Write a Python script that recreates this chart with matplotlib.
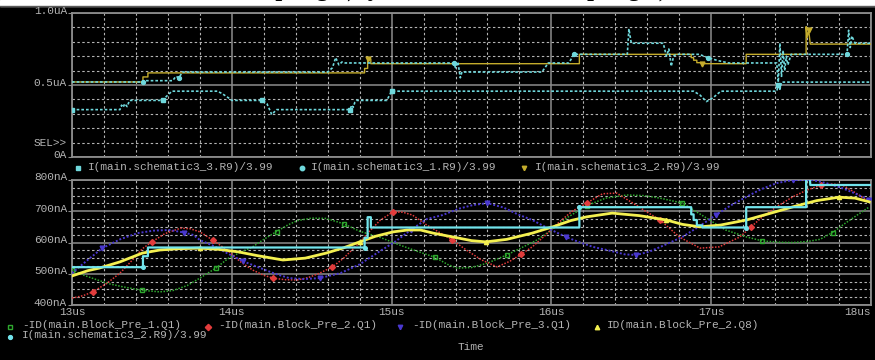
import matplotlib
matplotlib.use("Agg")
import matplotlib.pyplot as plt
from matplotlib.ticker import MultipleLocator
from matplotlib.patches import Rectangle

W, H, DPI = 875, 360, 100

# ---------------- data (time in microseconds) ----------------
# -ID(main.Block_Pre_1.Q1), nA
green_t = [13.00, 13.08, 13.16, 13.24, 13.32, 13.44, 13.55, 13.63, 13.72, 13.80,
           13.90, 13.98, 14.06, 14.13, 14.20, 14.28, 14.35, 14.41, 14.50, 14.59,
           14.70, 14.80, 14.92, 15.05, 15.16, 15.27, 15.35, 15.41, 15.50, 15.60,
           15.72, 15.82, 15.91, 16.00, 16.10, 16.22, 16.34, 16.47, 16.58, 16.68,
           16.82, 16.88, 16.99, 17.09, 17.22, 17.32, 17.42, 17.51, 17.60, 17.68,
           17.76, 17.84, 17.92, 17.99]
green_nA = [512, 494, 480, 467, 458, 447, 442, 446, 462, 486,
            518, 550, 570, 586, 610, 635, 656, 670, 678, 677,
            660, 636, 618, 592, 572, 553, 530, 518, 520, 534,
            560, 585, 608, 640, 680, 718, 742, 752, 750, 742,
            726, 707, 672, 640, 618, 605, 601, 600, 603, 610,
            632, 662, 690, 714]

# -ID(main.Block_Pre_2.Q1), nA
red_t = [13.00, 13.07, 13.13, 13.22, 13.30, 13.38, 13.44, 13.50, 13.58, 13.68,
         13.74, 13.80, 13.88, 13.97, 14.05, 14.13, 14.20, 14.26, 14.33, 14.41,
         14.48, 14.55, 14.63, 14.70, 14.78, 14.86, 14.93, 15.01, 15.07, 15.13,
         15.22, 15.30, 15.38, 15.47, 15.56, 15.66, 15.74, 15.81, 15.88, 15.96,
         16.05, 16.13, 16.22, 16.32, 16.41, 16.51, 16.59, 16.68, 16.80, 16.93,
         17.05, 17.18, 17.25, 17.32, 17.42, 17.51, 17.60, 17.69, 17.76, 17.82,
         17.90, 17.99]
red_nA = [422, 430, 442, 470, 502, 545, 580, 602, 628, 646,
          644, 634, 608, 576, 540, 512, 495, 486, 481, 480,
          488, 502, 522, 550, 590, 635, 672, 698, 697, 688,
          656, 632, 608, 575, 545, 522, 540, 562, 586, 622,
          666, 700, 726, 756, 758, 726, 700, 672, 618, 582,
          586, 618, 650, 682, 718, 746, 768, 784, 787, 784,
          760, 730]

# -ID(main.Block_Pre_3.Q1), nA
blue_t = [13.00, 13.10, 13.19, 13.30, 13.41, 13.51, 13.61, 13.70, 13.76, 13.80,
          13.89, 13.97, 14.07, 14.18, 14.27, 14.36, 14.45, 14.55, 14.68, 14.80,
          14.92, 15.02, 15.12, 15.22, 15.32, 15.42, 15.51, 15.60, 15.70, 15.79,
          15.88, 15.98, 16.09, 16.18, 16.26, 16.38, 16.46, 16.53, 16.61, 16.70,
          16.82, 16.92, 17.03, 17.12, 17.22, 17.31, 17.41, 17.51, 17.63, 17.72,
          17.82, 17.90, 17.99]
blue_nA = [502, 545, 582, 610, 630, 638, 640, 632, 624, 608,
           588, 566, 540, 518, 500, 486, 483, 486, 502, 530,
           570, 602, 640, 675, 688, 708, 720, 726, 712, 690,
           672, 645, 618, 600, 586, 572, 562, 560, 570, 590,
           618, 650, 688, 718, 746, 770, 790, 800, 800, 790,
           774, 757, 736]

# ID(main.Block_Pre_2.Q8), nA
yel_t = [13.00, 13.10, 13.17, 13.30, 13.44, 13.55, 13.66, 13.80, 13.92, 14.04,
         14.16, 14.32, 14.46, 14.59, 14.70, 14.80, 14.90, 15.01, 15.10, 15.18,
         15.26, 15.38, 15.50, 15.59, 15.72, 15.88, 16.02, 16.12, 16.22, 16.38,
         16.55, 16.72, 16.82, 16.93, 17.06, 17.22, 17.36, 17.51, 17.66, 17.80,
         17.90, 17.99]
yel_nA = [493, 510, 518, 538, 566, 576, 580, 582, 578, 570,
          558, 544, 550, 566, 583, 602, 620, 634, 640, 640,
          630, 618, 606, 602, 610, 630, 652, 670, 682, 694,
          686, 672, 658, 650, 656, 672, 692, 714, 734, 745,
          742, 730]

# I(main.schematic3_2.R9)/3.99, nA (staircase)
step_t = [13.00, 13.444, 13.444, 13.475, 13.475, 14.831, 14.831, 14.85, 14.85, 14.87,
          14.87, 16.175, 16.175, 16.875, 16.875, 16.89, 16.89, 16.91, 16.91, 16.944,
          16.944, 17.219, 17.219, 17.594, 17.594, 17.60, 17.61, 17.62, 18.00]
step_nA = [521, 521, 556, 556, 584, 584, 615, 615, 681, 681,
           648, 648, 713, 713, 690, 690, 672, 672, 655, 655,
           648, 648, 713, 713, 905, 830, 880, 784, 784]

# I(main.schematic3_3.R9)/3.99, uA
sch3_t = [13.00, 13.30, 13.31, 13.32, 13.33, 13.345, 13.36, 13.57, 13.59, 13.60,
          13.625, 13.91, 13.94, 13.96, 13.98, 14.00, 14.19, 14.22, 14.25, 14.28,
          14.74, 14.75, 14.76, 14.77, 14.78, 14.97, 15.00, 16.89, 16.93, 16.97,
          17.01, 17.06, 17.41, 17.42, 17.43, 17.44, 18.00]
sch3_uA = [0.329, 0.329, 0.36, 0.345, 0.37, 0.35, 0.393, 0.393, 0.42, 0.43,
           0.457, 0.457, 0.44, 0.425, 0.41, 0.393, 0.393, 0.37, 0.295, 0.329,
           0.329, 0.36, 0.345, 0.38, 0.393, 0.393, 0.457, 0.457, 0.43, 0.385,
           0.41, 0.457, 0.457, 0.50, 0.47, 0.52, 0.52]

# I(main.schematic3_1.R9)/3.99, uA
sch1_t = [13.00, 13.444, 13.45, 13.63, 13.65, 13.67, 13.69, 14.60, 14.63, 14.65,
          14.67, 14.69, 14.71, 15.39, 15.40, 15.415, 15.43, 15.44, 15.94, 15.96,
          15.98, 16.11, 16.14, 16.475, 16.485, 16.50, 16.70, 16.72, 16.735, 16.75,
          16.765, 16.78, 16.925, 16.98, 17.04, 17.11, 17.41, 17.42, 17.43, 17.44,
          17.45, 17.46, 17.47, 17.48, 17.50, 17.85, 17.86, 17.87, 17.88, 17.90,
          18.00]
sch1_uA = [0.521, 0.521, 0.53, 0.53, 0.56, 0.55, 0.59, 0.59, 0.62, 0.69,
           0.64, 0.66, 0.653, 0.653, 0.62, 0.66, 0.55, 0.59, 0.59, 0.62,
           0.653, 0.653, 0.713, 0.713, 0.89, 0.79, 0.79, 0.70, 0.75, 0.63,
           0.70, 0.713, 0.713, 0.69, 0.67, 0.653, 0.653, 0.52, 0.79, 0.56,
           0.74, 0.60, 0.70, 0.64, 0.713, 0.713, 0.88, 0.76, 0.84, 0.79,
           0.79]

x_ticks = [13, 14, 15, 16, 17, 18]
x_labels = ["13us", "14us", "15us", "16us", "17us", "18us"]
top_ticks = [0.0, 0.5, 1.0]
top_labels = ["0A", "0.5uA", "1.0uA"]
bot_ticks = [400, 500, 600, 700, 800]
bot_labels = ["400nA", "500nA", "600nA", "700nA", "800nA"]

top_legend = ["I(main.schematic3_3.R9)/3.99", "I(main.schematic3_1.R9)/3.99",
              "I(main.schematic3_2.R9)/3.99"]
bot_legend = ["-ID(main.Block_Pre_1.Q1)", "-ID(main.Block_Pre_2.Q1)",
              "-ID(main.Block_Pre_3.Q1)", "ID(main.Block_Pre_2.Q8)"]
bot_legend2 = "I(main.schematic3_2.R9)/3.99"
title_text = "x: the current in sampling 1), y: the current in sampling 2)"

# ---------------- styling ----------------
GRID_MAJOR = "#8c8c8c"
GRID_MINOR = "#b4b4b4"
TXT = "#b4b4b4"
CYAN = "#6fd8dc"
CYAN_B = "#72e4ec"
OLIVE = "#c4ac2c"
YELLOW = "#f4f050"
GREEN = "#2ea82e"
RED = "#e23c3c"
BLUE = "#4a38d0"
MONO = dict(family="Liberation Mono", size=8.0, color=TXT)

fig = plt.figure(figsize=(W / DPI, H / DPI), dpi=DPI, facecolor="black")


def box(x0, y0, x1, y1):
    return [x0 / W, 1 - y1 / H, (x1 - x0) / W, (y1 - y0) / H]


def style(ax, lo, hi, major, minor):
    ax.set_facecolor("black")
    ax.set_xlim(13, 18)
    ax.set_ylim(lo, hi)
    ax.xaxis.set_major_locator(MultipleLocator(1))
    ax.xaxis.set_minor_locator(MultipleLocator(0.2))
    ax.yaxis.set_major_locator(MultipleLocator(major))
    ax.yaxis.set_minor_locator(MultipleLocator(minor))
    ax.grid(which="major", color=GRID_MAJOR, lw=1.1, ls="-")
    ax.grid(which="minor", color=GRID_MINOR, lw=0.8, ls=(0, (2.2, 2.2)))
    ax.set_axisbelow(True)
    ax.tick_params(which="both", labelleft=False, labelbottom=False, length=0)
    ax.tick_params(axis="y", which="major", length=3, direction="out", color=GRID_MAJOR)
    for s in ax.spines.values():
        s.set_color(GRID_MAJOR)
        s.set_linewidth(1.3)


ax_top = fig.add_axes(box(72, 13, 871, 157))
ax_bot = fig.add_axes(box(72, 180, 871, 305))
style(ax_top, 0, 1.0, 0.5, 0.1)
style(ax_bot, 400, 800, 100, 25)

# upper plot
dot = (0, (1.6, 1.2))
ax_top.plot(step_t, [v / 1000 for v in step_nA], color=OLIVE, lw=1.0, zorder=3,
            marker="v", ms=3.5, markevery=[8, 20, 26])
ax_top.plot(sch3_t, sch3_uA, color=CYAN, lw=1.2, ls=dot, zorder=4,
            marker="s", ms=3.2, markevery=[0, 7, 16, 20, 26, 33])
ax_top.plot(sch1_t, sch1_uA, color=CYAN, lw=1.2, ls=dot, zorder=4,
            marker="o", ms=2.8, markevery=[1, 5, 13, 22, 33, 45])

# lower plot
sdot = (0, (1.0, 1.0))
ax_bot.plot(green_t, green_nA, color=GREEN, lw=1.1, ls=sdot, zorder=3,
            marker="s", ms=3.4, mfc="none", mew=1.0, markevery=(0, 5))
ax_bot.plot(red_t, red_nA, color=RED, lw=1.1, ls=sdot, zorder=3,
            marker="D", ms=3.0, markevery=(2, 5))
ax_bot.plot(blue_t, blue_nA, color=BLUE, lw=1.4, ls=sdot, zorder=3,
            marker="v", ms=3.4, markevery=(2, 5))
ax_bot.plot(yel_t, yel_nA, color=YELLOW, lw=2.0, zorder=4,
            marker="^", ms=3.0, markevery=(7, 8))
ax_bot.plot(step_t, step_nA, color=CYAN_B, lw=1.6, zorder=5,
            marker="o", ms=2.6, markevery=[1, 5, 12, 21])

# axis labels drawn next to the grid lines
for v, lab in zip(top_ticks, top_labels):
    ax_top.annotate(lab, xy=(0, v), xycoords=ax_top.get_yaxis_transform(),
                    xytext=(-5, 2.5), textcoords="offset pixels",
                    ha="right", va="center", **MONO)
ax_top.annotate("SEL>>", xy=(0, 0), xycoords=ax_top.get_yaxis_transform(),
                xytext=(-5, 13.5), textcoords="offset pixels",
                ha="right", va="center", **MONO)
for v, lab in zip(bot_ticks, bot_labels):
    ax_bot.annotate(lab, xy=(0, v), xycoords=ax_bot.get_yaxis_transform(),
                    xytext=(-5, 2.5), textcoords="offset pixels",
                    ha="right", va="center", **MONO)
for t, lab in zip(x_ticks, x_labels):
    ha = "right" if t == x_ticks[-1] else "center"
    ax_bot.annotate(lab, xy=(t, 0), xycoords=ax_bot.get_xaxis_transform(),
                    xytext=(0, -7), textcoords="offset pixels",
                    ha=ha, va="center", **MONO)

# overlay in pixel coordinates for legends and the caption strip
ov = fig.add_axes([0, 0, 1, 1])
ov.set_xlim(0, W)
ov.set_ylim(H, 0)
ov.axis("off")
ov.patch.set_visible(False)

ov.add_patch(Rectangle((0, 0), W, 5.5, color="white", zorder=1))
ov.plot([0, W], [6.2, 6.2], color="#5a5a5a", lw=1.0, zorder=2)
ov.text(56, -4.5, title_text, family="Liberation Serif", weight="bold",
        size=17.7, color="black", ha="left", va="baseline", zorder=3)

# upper legend row
top_marks = [("s", CYAN, 78, 88), ("o", CYAN, 302, 311), ("v", OLIVE, 524, 535)]
for (m, c, mx, tx), lab in zip(top_marks, top_legend):
    ov.plot([mx], [168], marker=m, color=c, ms=3.2, ls="none")
    ov.text(tx, 166.5, lab, ha="left", va="center", **MONO)

# lower legend rows
bot_marks = [("s", GREEN, 10, 22), ("D", RED, 208, 218),
             ("v", BLUE, 400, 412), ("^", YELLOW, 597, 607)]
for (m, c, mx, tx), lab in zip(bot_marks, bot_legend):
    ov.plot([mx], [327], marker=m, color=c, ms=3.2, ls="none",
            mfc="none" if m == "s" else c)
    ov.text(tx, 324.5, lab, ha="left", va="center", **MONO)
ov.plot([10], [337], marker="o", color=CYAN_B, ms=2.8, ls="none")
ov.text(22, 335.5, bot_legend2, ha="left", va="center", **MONO)
ov.text(458, 346.5, "Time", ha="left", va="center", **MONO)

fig.savefig("out.png", dpi=DPI, facecolor="black")
